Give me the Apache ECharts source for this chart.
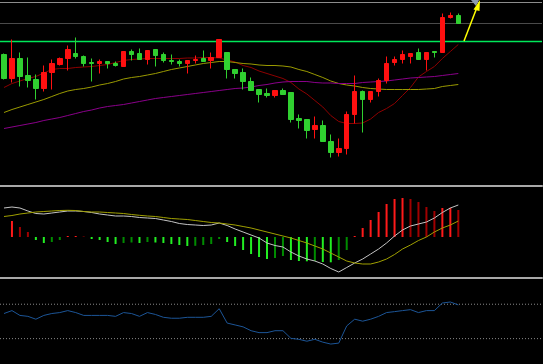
<!DOCTYPE html>
<html><head><meta charset="utf-8">
<script src="https://cdn.jsdelivr.net/npm/echarts@6/dist/echarts.min.js"></script>
<style>html,body{margin:0;padding:0;background:#000;}#c{width:543px;height:364px;}</style>
</head><body><div id="c"></div>
<script>
// ---- price candles (open, close, low, high) ----
const opens  = [14.6,12.2,14.2,12.5,12.1,11.2,12.8,13.6,14.2,14.7,14.4,13.8,13.7,13.9,13.7,13.4,14.9,14.7,14.1,15.1,14.6,14.0,13.9,13.7,14.0,14.2,14.0,14.3,14.8,13.1,12.8,11.9,11.1,10.7,10.5,11.0,10.8,8.2,8.1,7.1,7.5,5.9,4.8,5.2,8.6,10.9,10.1,10.9,12.0,13.8,14.1,14.4,14.8,14.1,14.9,14.8,18.3,18.5];
const closes = [12.2,14.2,12.4,12.0,11.2,12.8,13.7,14.2,15.1,14.4,13.7,13.7,13.9,13.7,13.5,14.9,14.6,14.1,15.0,14.5,14.0,13.9,13.7,14.0,14.1,13.9,14.3,16.1,13.1,12.7,11.9,11.0,10.6,10.5,11.0,10.6,8.1,8.0,7.0,7.5,5.9,4.8,5.2,8.6,10.9,10.1,10.9,12.0,13.7,14.1,14.6,14.7,14.1,14.8,14.8,18.3,18.5,17.7];
const lows   = [12.1,11.8,11.4,11.3,10.1,10.9,11.1,13.5,13.0,14.2,13.4,11.9,12.7,13.2,13.4,13.4,14.0,14.1,13.6,13.4,13.8,13.6,13.4,12.7,13.7,13.9,13.2,14.3,12.2,12.2,11.1,11.0,9.8,10.3,10.3,10.6,7.8,7.2,6.2,6.2,5.9,4.3,4.4,4.6,7.7,6.8,9.8,10.4,11.7,13.5,13.7,13.7,14.1,13.0,14.3,14.8,18.2,17.7];
const highs  = [14.7,16.1,14.8,14.3,12.6,13.5,14.1,14.3,15.5,16.3,14.5,14.2,14.1,13.9,13.9,14.9,15.1,15.2,15.0,15.1,14.8,14.6,14.1,14.0,14.5,15.0,14.8,16.1,14.8,13.1,13.2,12.3,11.1,11.2,11.0,11.2,10.8,8.6,8.1,8.4,8.0,6.6,6.2,8.9,12.5,11.0,10.9,12.2,14.4,14.4,15.0,14.7,15.2,14.8,14.9,18.7,18.8,18.7];
// ---- moving averages ----
const maShort = [11.3,11.7,11.95,12.2,12.4,12.75,13.1,13.2,13.2,13.3,13.35,13.4,13.5,13.6,13.8,14.0,14.1,14.15,14.2,14.2,14.2,14.2,14.2,14.25,14.25,14.3,14.3,14.25,14.05,13.85,13.5,13.3,12.95,12.7,12.45,12.2,11.8,11.15,10.65,10.0,9.35,8.5,7.9,7.7,7.7,7.75,8.15,8.8,9.2,9.7,10.5,11.3,12.35,12.9,13.4,14.2,14.9,15.6];
const maMid   = [8.8,9.1,9.35,9.6,9.85,10.1,10.4,10.7,10.95,11.1,11.2,11.35,11.55,11.7,11.9,12.15,12.3,12.4,12.55,12.7,12.9,13.1,13.25,13.4,13.55,13.7,13.8,13.9,13.9,13.8,13.7,13.65,13.55,13.5,13.5,13.45,13.35,13.1,12.9,12.6,12.3,11.95,11.7,11.55,11.45,11.3,11.2,11.15,11.1,11.1,11.1,11.1,11.1,11.15,11.2,11.4,11.5,11.6];
const maLong  = [7.2,7.35,7.5,7.65,7.8,8.0,8.15,8.3,8.5,8.7,8.9,9.05,9.25,9.4,9.5,9.6,9.75,9.9,10.05,10.2,10.3,10.4,10.5,10.6,10.7,10.8,10.9,11.0,11.1,11.2,11.25,11.35,11.5,11.6,11.75,11.85,11.9,11.9,11.9,11.8,11.75,11.75,11.7,11.7,11.7,11.8,11.85,11.9,11.95,12.05,12.15,12.25,12.3,12.35,12.4,12.5,12.6,12.7];
// ---- MACD ----
const dif  = [0.29,0.30,0.29,0.26,0.235,0.23,0.24,0.25,0.26,0.26,0.255,0.245,0.23,0.22,0.21,0.21,0.205,0.195,0.19,0.185,0.17,0.155,0.135,0.125,0.12,0.115,0.12,0.14,0.115,0.08,0.05,0.02,-0.01,-0.06,-0.085,-0.10,-0.15,-0.19,-0.22,-0.24,-0.27,-0.315,-0.35,-0.305,-0.26,-0.22,-0.17,-0.12,-0.06,0.01,0.07,0.11,0.13,0.15,0.19,0.245,0.29,0.32];
const dea  = [0.205,0.215,0.23,0.24,0.25,0.255,0.26,0.265,0.267,0.265,0.255,0.25,0.25,0.245,0.24,0.235,0.225,0.217,0.21,0.205,0.195,0.185,0.18,0.175,0.165,0.155,0.145,0.14,0.13,0.12,0.105,0.09,0.07,0.05,0.03,0.01,-0.01,-0.035,-0.06,-0.09,-0.12,-0.16,-0.20,-0.24,-0.26,-0.27,-0.27,-0.25,-0.22,-0.175,-0.12,-0.08,-0.035,0.0,0.05,0.09,0.12,0.16];
const macdHist = [null,0.16,0.10,0.05,-0.03,-0.06,-0.05,-0.03,0.01,0.01,0.005,-0.02,-0.03,-0.05,-0.07,-0.06,-0.055,-0.06,-0.05,-0.055,-0.06,-0.07,-0.08,-0.09,-0.088,-0.08,-0.07,-0.02,-0.05,-0.09,-0.13,-0.17,-0.20,-0.22,-0.21,-0.19,-0.23,-0.24,-0.243,-0.24,-0.25,-0.253,-0.23,-0.13,0.01,0.09,0.17,0.25,0.33,0.38,0.39,0.38,0.35,0.30,0.26,0.29,0.292,0.27];
// ---- lower oscillator ----
const osc = [59.2,62.6,57.0,55.9,52.6,57.0,59.2,60.3,62.6,60.3,57.0,57.0,57.0,57.0,55.9,60.3,59.2,55.9,60.3,58.1,54.8,53.7,53.7,54.8,54.8,54.8,55.9,64.8,48.1,45.9,43.7,39.2,37.0,37.0,39.2,39.2,30.3,29.2,27.0,29.2,25.9,23.7,24.8,44.8,52.6,50.3,52.6,55.9,60.3,61.4,62.6,63.7,60.3,62.6,62.6,71.4,72.6,69.2];
const oscLevels = [70, 30];
const topFrameLevel = 19.8;
const resistanceLevel = 17.7;
const breakoutLevel = 15.9;

const totalSlots = 68;
const categories = [];
for (let i = 1; i <= totalSlots; i++) categories.push('D' + i);

const candleData = opens.map((o, i) => [o, closes[i], lows[i], highs[i]]);

function histColor(p) {
  const i = p.dataIndex, v = macdHist[i], prev = i > 0 ? macdHist[i - 1] : null;
  if (v >= 0) {
    const bright = prev == null || prev < 0 || v >= prev;
    return bright ? '#ff1a1a' : '#a00000';
  } else {
    const bright = prev == null || prev >= 0 || v <= prev;
    return bright ? '#22ee22' : '#008c00';
  }
}

function xAx(grid, line) {
  return {
    type: 'category', gridIndex: grid, data: categories, boundaryGap: true, position: 'bottom',
    axisLine: { show: !!line, onZero: false, lineStyle: line || {} },
    axisTick: { show: false }, axisLabel: { show: false }, splitLine: { show: false }
  };
}
function spanAx(grid) {
  return { type: 'value', gridIndex: grid, min: 0, max: 1, show: false, position: 'bottom', splitLine: { show: false } };
}
function yAx(grid, min, max) {
  return { type: 'value', gridIndex: grid, min: min, max: max, show: false, splitLine: { show: false } };
}
// horizontal level drawn across the full panel width on a hidden 0..1 value axis
function levelSeries(xi, yi, value, color, dash, width) {
  return {
    type: 'line', xAxisIndex: xi, yAxisIndex: yi, data: [[0, value], [1, value]],
    showSymbol: false, silent: true, z: 1, color: color,
    itemStyle: { color: color },
    lineStyle: { color: color, width: width || 1, type: dash || 'solid', opacity: 1 }
  };
}

const chart = echarts.init(document.getElementById('c'), null, { renderer: 'canvas' });
chart.setOption({
  backgroundColor: '#000000',
  animation: false,
  grid: [
    { left: -2, width: 544, top: 2, height: 184 },
    { left: -2, width: 544, top: 186, height: 92 },
    { left: -2, width: 544, top: 278, height: 90 }
  ],
  xAxis: [
    xAx(0, { color: '#a8a8a8', width: 2 }),
    xAx(1, { color: '#a8a8a8', width: 2 }),
    xAx(2, null),
    spanAx(0),
    spanAx(2)
  ],
  yAxis: [
    yAx(0, 1.45, 19.85),
    yAx(1, -0.41, 0.51),
    yAx(2, 0.5, 100.5)
  ],
  series: [
    levelSeries(3, 0, topFrameLevel, '#8c8c8c'),
    levelSeries(3, 0, resistanceLevel, '#4a4a4a'),
    levelSeries(3, 0, breakoutLevel, '#00e85a', null, 1.3),
    levelSeries(4, 2, oscLevels[0], '#8a8a8a', [1, 2]),
    levelSeries(4, 2, oscLevels[1], '#8a8a8a', [1, 2]),
    {
      type: 'candlestick', xAxisIndex: 0, yAxisIndex: 0, data: candleData, barWidth: 5,
      itemStyle: { color: '#ff1010', color0: '#30d030', borderColor: '#ff1010', borderColor0: '#30d030', borderWidth: 1 },
      z: 3
    },
    { type: 'line', xAxisIndex: 0, yAxisIndex: 0, data: maShort, showSymbol: false, lineStyle: { color: '#8e0000', width: 1 }, z: 2 },
    { type: 'line', xAxisIndex: 0, yAxisIndex: 0, data: maMid, showSymbol: false, lineStyle: { color: '#9a9a00', width: 1 }, z: 2 },
    { type: 'line', xAxisIndex: 0, yAxisIndex: 0, data: maLong, showSymbol: false, lineStyle: { color: '#8a008a', width: 1 }, z: 2 },
    { type: 'bar', xAxisIndex: 1, yAxisIndex: 1, data: macdHist, barWidth: 2, itemStyle: { color: histColor } },
    { type: 'line', xAxisIndex: 1, yAxisIndex: 1, data: dif, showSymbol: false, lineStyle: { color: '#c4c4c4', width: 1 }, z: 3 },
    { type: 'line', xAxisIndex: 1, yAxisIndex: 1, data: dea, showSymbol: false, lineStyle: { color: '#a0a000', width: 1 }, z: 3 },
    { type: 'line', xAxisIndex: 2, yAxisIndex: 2, data: osc, showSymbol: false, lineStyle: { color: '#1c5597', width: 1 }, z: 2 }
  ],
  graphic: [
    { type: 'polygon', shape: { points: [[471, 0], [479, 0], [476, 6]] }, style: { fill: '#8c9bb0' }, z: 10 },
    { type: 'line', shape: { x1: 464, y1: 41, x2: 477.5, y2: 6 }, style: { stroke: '#ffff00', lineWidth: 1.5 }, z: 11 },
    { type: 'polygon', shape: { points: [[480, 0], [473.5, 9.5], [479.5, 11]] }, style: { fill: '#ffff00' }, z: 11 }
  ]
});
</script></body></html>
